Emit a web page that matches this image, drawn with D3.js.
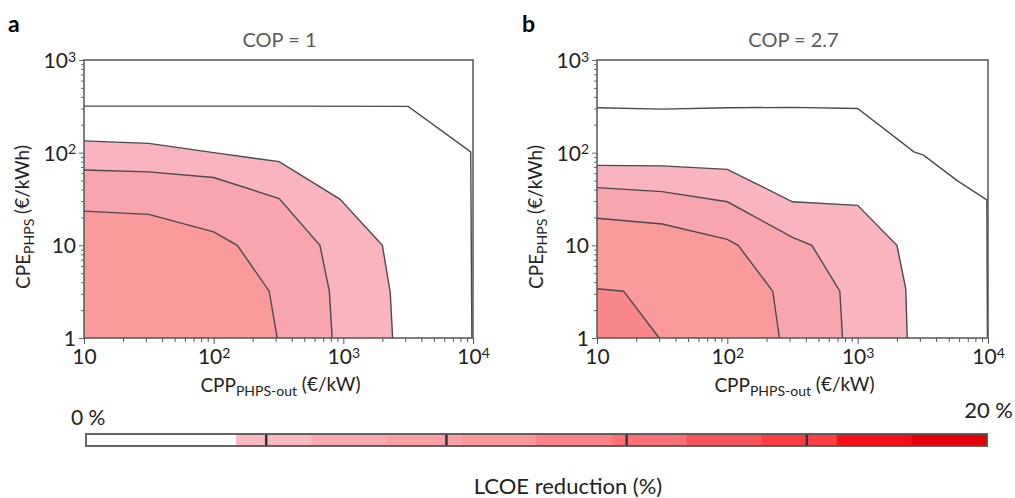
<!DOCTYPE html>
<html>
<head>
    <meta charset="utf-8">
    <title>LCOE reduction contours</title>
    <script src="https://d3js.org/d3.v7.min.js"></script>
</head>
<style>
    body { margin: 0; background: #fff; }
    svg text { font-family: Lato, "Open Sans", sans-serif; fill: #222; }
    .title { fill: #595959; font-weight: 400; }
</style>
<body>
<svg id="chart" width="1015" height="498"></svg>
<script>
    // ---- data: contour lines [CPP, CPE] ----
    // panel a, COP = 1
    var copA_l0 = [[10, 318], [31.6, 318], [316, 318], [3162, 316], [9600, 102], [9800, 1]];
    var copA_l1 = [[10, 134], [31.6, 126], [100, 100], [320, 80], [940, 31.6], [2000, 10], [2300, 3.1], [2400, 1]];
    var copA_l2 = [[10, 65], [31.6, 62], [100, 54], [320, 32], [660, 10], [780, 3.2], [820, 1]];
    var copA_l3 = [[10, 23.4], [31.6, 21.6], [100, 14], [152, 10], [268, 3.2], [309, 1]];
    // panel b, COP = 2.7
    var copB_l0 = [[10, 305], [31.6, 295], [100, 305], [316, 308], [1000, 300], [2700, 102], [3200, 94], [5800, 50], [9800, 31], [9900, 1]];
    var copB_l1 = [[10, 73], [31.6, 72], [100, 66], [145, 51], [316, 29.5], [1000, 27], [2000, 10], [2340, 3.4], [2400, 1]];
    var copB_l2 = [[10, 42], [31.6, 38], [100, 29.5], [316, 12.2], [445, 10], [730, 3.2], [765, 1]];
    var copB_l3 = [[10, 19.6], [31.6, 17], [100, 11.6], [121, 10], [223, 3.2], [251, 1]];
    var copB_l4 = [[10, 3.4], [16, 3.2], [30, 1]];

    var panelNames = ["a", "b"];
    var panelTitles = ["COP = 1", "COP = 2.7"];
    var panelLines = [[copA_l0, copA_l1, copA_l2, copA_l3], [copB_l0, copB_l1, copB_l2, copB_l3, copB_l4]];
    var bandColors = ["none", "#f9b5bf", "#f8a5ad", "#fa9a9b", "#f98688"];

    var xTicksMajor = [10, 100, 1000, 10000];
    var yTicksMajor = [1, 10, 100, 1000];

    // colour bar
    var cbSteps = [0, 1.667, 3.333, 5, 6.667, 8.333, 10, 11.667, 13.333, 15, 16.667, 18.333, 20];
    var cbColors = ["#ffffff", "#ffffff", "#fcb9c2", "#fcaab1", "#fca0a6", "#fb979b", "#fc8488",
        "#fc6f72", "#fc5558", "#fb3f41", "#f5101a", "#e60008"];
    var cbMarks = [4, 8, 12, 16];

    var svg = d3.select("#chart");

    function minorTicks(lo, hi) {
        var out = [];
        for (var p = lo; p < hi; p *= 10)
            for (var k = 1; k < 10; k++) out.push(p * k);
        out.push(hi);
        return out;
    }

    // label "10" with exponent tspan
    function powerLabel(sel) {
        sel.each(function (d) {
            var t = d3.select(this);
            var e = Math.round(Math.log10(d));
            t.text(null);
            if (e <= 1) { t.text(String(d)); return; }
            t.append("tspan").text("10");
            t.append("tspan").attr("dy", "-0.45em").style("font-size", "14px").text(e);
        });
    }

    var layouts = [
        { x0: 84, x1: 473, letterX: 8, ylabX: 30 },
        { x0: 597, x1: 988, letterX: 522, ylabX: 543 }
    ];
    var yTop = 60, yBot = 338;

    layouts.forEach(function (L, i) {
        var x = d3.scaleLog().domain([10, 1e4]).range([L.x0, L.x1]);
        var y = d3.scaleLog().domain([1, 1e3]).range([yBot, yTop]);
        var g = svg.append("g");

        // filled bands, outer to inner, each closed at the (10, 1) corner
        var line = d3.line().x(function (d) { return x(d[0]); }).y(function (d) { return y(d[1]); });
        panelLines[i].forEach(function (pts, k) {
            if (bandColors[k] === "none") return;
            g.append("path")
                .attr("d", line(pts.concat([[10, 1]])) + "Z")
                .attr("fill", bandColors[k]);
        });
        panelLines[i].forEach(function (pts) {
            g.append("path")
                .attr("d", line(pts))
                .attr("fill", "none")
                .attr("stroke", "#4a4a4a")
                .attr("stroke-width", 1.4);
        });

        // frame
        g.append("rect")
            .attr("x", L.x0).attr("y", yTop)
            .attr("width", L.x1 - L.x0).attr("height", yBot - yTop)
            .attr("fill", "none").attr("stroke", "#555").attr("stroke-width", 1.5);

        // axes
        var xAxis = d3.axisBottom(x).tickValues(minorTicks(10, 1e4))
            .tickSize(4).tickSizeOuter(0).tickFormat(function () { return ""; });
        var gx = g.append("g").attr("transform", "translate(0," + yBot + ")").call(xAxis);
        gx.select(".domain").remove();
        gx.selectAll("line").attr("stroke", "#555");
        gx.selectAll(".tick").filter(function (d) { return xTicksMajor.indexOf(d) >= 0; })
            .select("line").attr("y2", 6);
        gx.selectAll(".tick text")
            .filter(function (d) { return xTicksMajor.indexOf(d) >= 0; })
            .attr("y", 11).attr("dy", "0.71em").style("font-size", "21px").attr("fill", "#222")
            .call(powerLabel);

        var yAxis = d3.axisLeft(y).tickValues(minorTicks(1, 1e3))
            .tickSize(3).tickSizeOuter(0).tickFormat(function () { return ""; });
        var gy = g.append("g").attr("transform", "translate(" + L.x0 + ",0)").call(yAxis);
        gy.select(".domain").remove();
        gy.selectAll("line").attr("stroke", "#666");
        gy.selectAll(".tick").filter(function (d) { return yTicksMajor.indexOf(d) >= 0; })
            .select("line").attr("x2", -5);
        gy.selectAll(".tick text")
            .filter(function (d) { return yTicksMajor.indexOf(d) >= 0; })
            .attr("x", -8).attr("dy", "0.35em").style("font-size", "21px").attr("fill", "#222")
            .call(powerLabel);

        // panel letter and title
        svg.append("text").attr("x", L.letterX).attr("y", 32)
            .style("font-size", "23px").style("font-weight", "bold").style("fill", "#000")
            .text(panelNames[i]);
        svg.append("text").attr("class", "title")
            .attr("x", (L.x0 + L.x1) / 2 + 1).attr("y", 47).attr("text-anchor", "middle")
            .style("font-size", "20px").text(panelTitles[i]);

        // axis titles
        var xl = svg.append("text").attr("x", (L.x0 + L.x1) / 2 + 2).attr("y", 392)
            .attr("text-anchor", "middle").style("font-size", "19px");
        xl.append("tspan").text("CPP");
        xl.append("tspan").attr("dy", "0.3em").style("font-size", "14px").text("PHPS-out");
        xl.append("tspan").attr("dy", "-0.3em").text(" (\u20ac/kW)");

        var yl = svg.append("text")
            .attr("transform", "translate(" + L.ylabX + "," + ((yTop + yBot) / 2 + 18) + ") rotate(-90)")
            .attr("text-anchor", "middle").style("font-size", "19px");
        yl.append("tspan").text("CPE");
        yl.append("tspan").attr("dy", "0.3em").style("font-size", "14px").text("PHPS");
        yl.append("tspan").attr("dy", "-0.3em").text(" (\u20ac/kWh)");
    });

    // ---- colour bar ----
    var cb = d3.scaleLinear().domain([0, 20]).range([86, 987]);
    var cbY = 434, cbH = 12;
    var gc = svg.append("g");
    gc.selectAll("rect.step").data(cbColors).enter().append("rect")
        .attr("class", "step")
        .attr("x", function (d, i) { return cb(cbSteps[i]); })
        .attr("width", function (d, i) { return cb(cbSteps[i + 1]) - cb(cbSteps[i]) + 0.5; })
        .attr("y", cbY).attr("height", cbH)
        .attr("fill", function (d) { return d; });
    gc.selectAll("line.mark").data(cbMarks).enter().append("line")
        .attr("class", "mark")
        .attr("x1", cb).attr("x2", cb)
        .attr("y1", cbY).attr("y2", cbY + cbH)
        .attr("stroke", "#333").attr("stroke-width", 2.5);
    gc.append("rect").attr("x", cb(0)).attr("y", cbY)
        .attr("width", cb(20) - cb(0)).attr("height", cbH)
        .attr("fill", "none").attr("stroke", "#555").attr("stroke-width", 1.8);

    svg.append("text").attr("x", 71).attr("y", 425).style("font-size", "21px").text("0 %");
    svg.append("text").attr("x", 1013).attr("y", 418).attr("text-anchor", "end")
        .style("font-size", "22px").text("20 %");
    svg.append("text").attr("x", 568).attr("y", 494).attr("text-anchor", "middle")
        .style("font-size", "22px").text("LCOE reduction (%)");
</script>
</body>
</html>
